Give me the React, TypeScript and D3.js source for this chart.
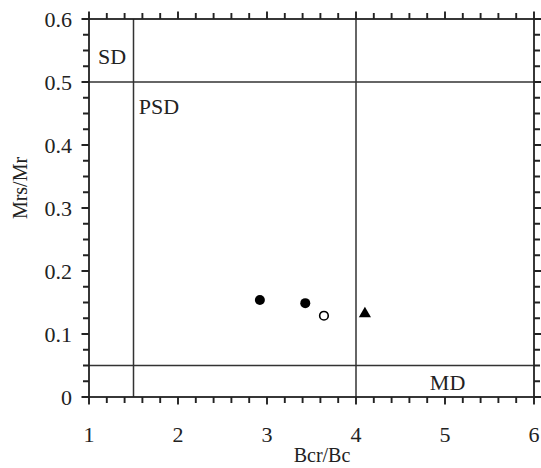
import React from "react";
import * as d3 from "d3";

const xTicks = [1, 2, 3, 4, 5, 6];
const yTicks = [0, 0.1, 0.2, 0.3, 0.4, 0.5, 0.6];
const filledX = [2.92, 3.43];
const filledY = [0.154, 0.149];
const openX = [3.64];
const openY = [0.129];
const triX = [4.1];
const triY = [0.132];
const vLines = [1.5, 4];
const hLines = [0.05, 0.5];
const regionLabels = ["SD", "PSD", "MD"];
const regionX = [1.1, 1.56, 4.83];
const regionY = [0.529, 0.449, 0.011];

export default function App() {
  const W = 541, H = 468;
  const x = d3.scaleLinear().domain([1, 6]).range([89, 534]);
  const y = d3.scaleLinear().domain([0, 0.6]).range([397, 19]);
  const [x0, x1] = x.range();
  const [y0, y1] = y.range();
  const xMinor = d3.range(0, 26).map((i) => 1 + i * 0.2);
  const yMinor = d3.range(0, 25).map((i) => i * 0.025);
  const font = "'Liberation Serif', 'Times New Roman', serif";
  const stroke = "#222";
  const tri = d3.symbol().type(d3.symbolTriangle).size(64)();
  let tickPath = "";
  xMinor.forEach((v, i) => {
    const len = i % 5 === 0 ? 7.5 : 6;
    const px = x(v);
    tickPath += `M${px},${y0}V${y0 + len}M${px},${y1}V${y1 - len}`;
  });
  yMinor.forEach((v, i) => {
    const len = i % 4 === 0 ? 7.5 : 6;
    const py = y(v);
    tickPath += `M${x0},${py}H${x0 - len}M${x1},${py}H${x1 + len}`;
  });
  return (
    <svg width={W} height={H} style={{ position: "absolute", left: 0, top: 0, background: "#fff" }}>
      {vLines.map((v, i) => (
        <line key={"v" + i} x1={x(v)} x2={x(v)} y1={y0} y2={y1} stroke="#333" strokeWidth={1.5} />
      ))}
      {hLines.map((v, i) => (
        <line key={"h" + i} x1={x0} x2={x1} y1={y(v)} y2={y(v)} stroke="#333" strokeWidth={1.5} />
      ))}
      <rect x={x0} y={y1} width={x1 - x0} height={y0 - y1} fill="none" stroke={stroke} strokeWidth={1.8} />
      <path d={tickPath} fill="none" stroke={stroke} strokeWidth={1.9} />
      {xTicks.map((v) => (
        <text key={"xl" + v} x={x(v)} y={442} textAnchor="middle" fontFamily={font} fontSize={22} fill="#222">
          {v}
        </text>
      ))}
      {yTicks.map((v) => (
        <text key={"yl" + v} x={72} y={y(v) + 8} textAnchor="end" fontFamily={font} fontSize={22} fill="#222">
          {v === 0 ? "0" : v.toFixed(1)}
        </text>
      ))}
      <text x={322} y={462} textAnchor="middle" fontFamily={font} fontSize={20} fill="#222">
        Bcr/Bc
      </text>
      <text
        transform={`translate(27, 188) rotate(-90)`}
        textAnchor="middle"
        fontFamily={font}
        fontSize={20}
        fill="#222"
      >
        Mrs/Mr
      </text>
      {regionLabels.map((t, i) => (
        <text key={t} x={x(regionX[i])} y={y(regionY[i])} fontFamily={font} fontSize={22} fill="#222">
          {t}
        </text>
      ))}
      {filledX.map((v, i) => (
        <circle key={"f" + i} cx={x(v)} cy={y(filledY[i])} r={5} fill="#000" />
      ))}
      {openX.map((v, i) => (
        <circle key={"o" + i} cx={x(v)} cy={y(openY[i])} r={4.3} fill="#fff" stroke="#000" strokeWidth={1.6} />
      ))}
      {triX.map((v, i) => (
        <path key={"t" + i} d={tri || ""} transform={`translate(${x(v)},${y(triY[i])})`} fill="#000" />
      ))}
    </svg>
  );
}
